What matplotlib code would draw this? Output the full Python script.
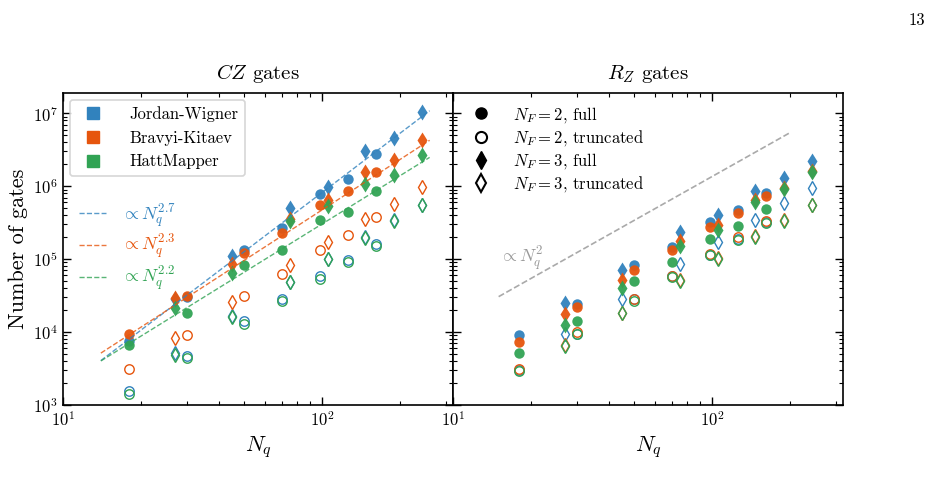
import matplotlib
matplotlib.use("Agg")
import matplotlib.pyplot as plt
from matplotlib.lines import Line2D
import numpy as np

plt.rcParams['font.family'] = 'serif'
plt.rcParams['font.serif'] = ['cmr10']
plt.rcParams['mathtext.fontset'] = 'cm'
plt.rcParams['axes.formatter.use_mathtext'] = True

# qubit counts: N_F * N
nq_2 = [18, 30, 50, 70, 98, 126, 162]
nq_3 = [27, 45, 75, 105, 147, 189, 243]

mappers = ['Jordan-Wigner', 'Bravyi-Kitaev', 'HattMapper']
colors = ['#3182bd', '#e6550d', '#31a354']

# CZ gates
cz_2_full = {
    'Jordan-Wigner': [7.5e3, 3.0e4, 1.35e5, 2.67e5, 7.9e5, 1.27e6, 2.77e6],
    'Bravyi-Kitaev': [9.3e3, 3.17e4, 1.22e5, 2.28e5, 5.6e5, 8.5e5, 1.56e6],
    'HattMapper':    [6.6e3, 1.8e4, 8.2e4, 1.32e5, 3.4e5, 4.5e5, 8.7e5],
}
cz_2_trunc = {
    'Jordan-Wigner': [1.56e3, 4.7e3, 1.44e4, 2.86e4, 5.8e4, 9.8e4, 1.63e5],
    'Bravyi-Kitaev': [3.1e3, 9.0e3, 3.17e4, 6.3e4, 1.32e5, 2.16e5, 3.8e5],
    'HattMapper':    [1.4e3, 4.35e3, 1.31e4, 2.65e4, 5.4e4, 9.0e4, 1.5e5],
}
cz_3_full = {
    'Jordan-Wigner': [2.8e4, 1.12e5, 5.1e5, 9.7e5, 3.05e6, 4.6e6, 1.03e7],
    'Bravyi-Kitaev': [2.94e4, 8.7e4, 3.5e5, 6.5e5, 1.59e6, 2.3e6, 4.3e6],
    'HattMapper':    [2.15e4, 6.5e4, 3.3e5, 5.3e5, 1.07e6, 1.43e6, 2.7e6],
}
cz_3_trunc = {
    'Jordan-Wigner': [5.2e3, 1.65e4, 4.9e4, 1.02e5, 2.0e5, 3.4e5, 5.6e5],
    'Bravyi-Kitaev': [8.4e3, 2.56e4, 8.4e4, 1.7e5, 3.5e5, 5.7e5, 9.9e5],
    'HattMapper':    [4.8e3, 1.6e4, 4.8e4, 1.0e5, 1.95e5, 3.36e5, 5.6e5],
}

# Rz gates
rz_2_full = {
    'Jordan-Wigner': [9.0e3, 2.46e4, 8.4e4, 1.45e5, 3.2e5, 4.65e5, 8.05e5],
    'Bravyi-Kitaev': [7.4e3, 2.22e4, 7.2e4, 1.32e5, 2.8e5, 4.28e5, 7.4e5],
    'HattMapper':    [5.2e3, 1.44e4, 5.0e4, 9.2e4, 1.9e5, 2.87e5, 4.9e5],
}
rz_2_trunc = {
    'Jordan-Wigner': [3.0e3, 9.5e3, 2.8e4, 5.8e4, 1.15e5, 1.9e5, 3.2e5],
    'Bravyi-Kitaev': [3.08e3, 1.0e4, 2.86e4, 5.95e4, 1.18e5, 1.99e5, 3.29e5],
    'HattMapper':    [2.92e3, 9.3e3, 2.71e4, 5.64e4, 1.13e5, 1.85e5, 3.13e5],
}
rz_3_full = {
    'Jordan-Wigner': [2.52e4, 7.0e4, 2.33e5, 4.06e5, 8.7e5, 1.29e6, 2.23e6],
    'Bravyi-Kitaev': [1.78e4, 5.1e4, 1.75e5, 2.97e5, 6.5e5, 9.4e5, 1.62e6],
    'HattMapper':    [1.24e4, 4.0e4, 1.5e5, 2.48e5, 6.06e5, 9.1e5, 1.58e6],
}
rz_3_trunc = {
    'Jordan-Wigner': [9.5e3, 2.88e4, 8.7e4, 1.72e5, 3.47e5, 5.87e5, 9.6e5],
    'Bravyi-Kitaev': [6.6e3, 1.85e4, 5.2e4, 1.05e5, 2.05e5, 3.45e5, 5.6e5],
    'HattMapper':    [6.4e3, 1.8e4, 5.08e4, 1.02e5, 2.01e5, 3.36e5, 5.45e5],
}

# power-law guides: prefactor, exponent
fit_exp = [2.7, 2.3, 2.2]
fit_pref = [3.27, 11.9, 12.1]
fit_range = [14, 260]
rz_guide_pref = 136
rz_guide_exp = 2
rz_guide_range = [15, 198]

fig = plt.figure(figsize=(9.39, 4.96), dpi=100)
ax1 = fig.add_axes([63 / 939, 91 / 496, 390 / 939, 312 / 496])
ax2 = fig.add_axes([453 / 939, 91 / 496, 390 / 939, 312 / 496])

ms_c = 7.5
ms_d = 8.5
ms_co = 6.8
ms_do = 7.5


def draw(ax, f2, t2, f3, t3):
    for m, c in zip(mappers, colors):
        ax.plot(nq_2, f2[m], 'o', color=c, ms=ms_c, mec='none', alpha=0.95)
        ax.plot(nq_2, t2[m], 'o', color=c, ms=ms_co, mfc='none', mew=1.0)
        ax.plot(nq_3, f3[m], 'd', color=c, ms=ms_d, mec='none', alpha=0.95)
        ax.plot(nq_3, t3[m], 'd', color=c, ms=ms_do, mfc='none', mew=1.0)


draw(ax1, cz_2_full, cz_2_trunc, cz_3_full, cz_3_trunc)
draw(ax2, rz_2_full, rz_2_trunc, rz_3_full, rz_3_trunc)

xf = np.geomspace(fit_range[0], fit_range[1], 50)
fit_handles = []
for a, p, c in zip(fit_pref, fit_exp, colors):
    h, = ax1.plot(xf, a * xf ** p, '--', color=c, lw=1.0, alpha=0.8)
    fit_handles.append(h)

xg = np.geomspace(rz_guide_range[0], rz_guide_range[1], 50)
ax2.plot(xg, rz_guide_pref * xg ** rz_guide_exp, '--', color='#aaaaaa', lw=1.2)
ax2.text(15.0, 8.8e4, r'$\propto N_q^2$', color='#999999', fontsize=13)

for ax in (ax1, ax2):
    ax.set_xscale('log')
    ax.set_yscale('log')
    ax.set_xlim(10, 320)
    ax.set_ylim(1e3, 1.9e7)
    ax.tick_params(which='both', direction='in', top=True, right=True, labelsize=12)
    ax.tick_params(which='major', length=6, width=1)
    ax.tick_params(which='minor', length=3, width=0.8)
    for s in ax.spines.values():
        s.set_linewidth(1.2)
    ax.set_xlabel(r'$N_q$', fontsize=16)

ax2.tick_params(labelleft=False)
ax1.set_ylabel('Number of gates', fontsize=16)
ax1.set_title(r'$CZ$ gates', fontsize=15, pad=10)
ax2.set_title(r'$R_Z$ gates', fontsize=15, pad=10)

# mapper legend
map_handles = [Line2D([], [], marker='s', ls='none', color=c, ms=9) for c in colors]
leg1 = ax1.legend(map_handles, mappers, loc='upper left', fontsize=12,
                  frameon=True, fancybox=True, edgecolor='#cccccc',
                  handletextpad=1.2, borderaxespad=0.4)
leg1.get_frame().set_linewidth(1.2)
ax1.add_artist(leg1)

# fit legend
fit_labels = [r'$\propto N_q^{%.1f}$' % p for p in fit_exp]
leg2 = ax1.legend(fit_handles, fit_labels, loc='center left',
                  bbox_to_anchor=(0.0, 0.505), fontsize=13, frameon=False,
                  handlelength=1.5, handletextpad=0.8, labelspacing=0.2)
for t, c in zip(leg2.get_texts(), colors):
    t.set_color(c)

# marker legend
mk_handles = [
    Line2D([], [], marker='o', ls='none', color='k', ms=8),
    Line2D([], [], marker='o', ls='none', color='k', mfc='none', mew=1.5, ms=8),
    Line2D([], [], marker='d', ls='none', color='k', ms=9),
    Line2D([], [], marker='d', ls='none', color='k', mfc='none', mew=1.5, ms=9),
]
mk_labels = [r'$N_F=2$, full', r'$N_F=2$, truncated',
             r'$N_F=3$, full', r'$N_F=3$, truncated']
ax2.legend(mk_handles, mk_labels, loc='upper left', fontsize=12, frameon=False,
           handletextpad=0.9, labelspacing=0.2, borderaxespad=0.3)

fig.text(0.985, 0.975, '13', ha='right', va='top', fontsize=12)

fig.savefig('out.png', dpi=100)
